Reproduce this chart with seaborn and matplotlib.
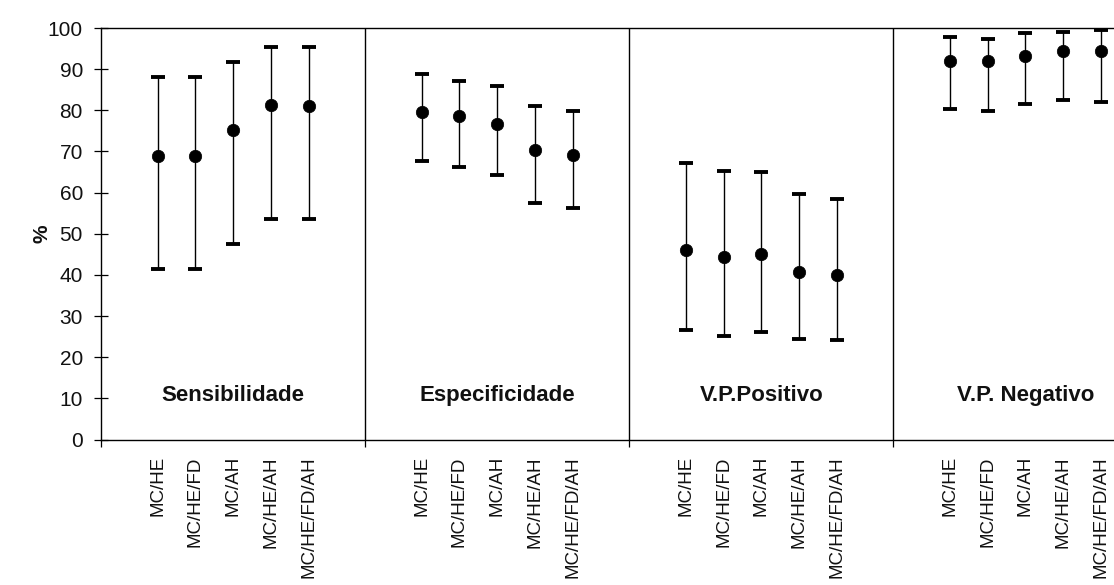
import matplotlib
matplotlib.use("Agg")
import matplotlib.pyplot as plt
import numpy as np
import pandas as pd
import seaborn as sns

# Diagnostic performance of the test combinations (%, with 95% CI)
metrics = ["Sensibilidade", "Especificidade", "V.P.Positivo", "V.P. Negativo"]
combos = ["MC/HE", "MC/HE/FD", "MC/AH", "MC/HE/AH", "MC/HE/FD/AH"]

sens_est = [68.9, 68.9, 75.2, 81.2, 81.1]
sens_low = [41.5, 41.5, 47.6, 53.7, 53.7]
sens_high = [88.0, 88.0, 91.7, 95.3, 95.3]

espec_est = [79.7, 78.5, 76.6, 70.4, 69.1]
espec_low = [67.8, 66.1, 64.2, 57.4, 56.3]
espec_high = [88.7, 87.1, 86.0, 81.1, 79.8]

vpp_est = [46.1, 44.4, 45.0, 40.8, 40.0]
vpp_low = [26.5, 25.2, 26.2, 24.4, 24.2]
vpp_high = [67.1, 65.3, 64.9, 59.7, 58.4]

vpn_est = [92.0, 92.1, 93.2, 94.5, 94.5]
vpn_low = [80.3, 79.9, 81.6, 82.6, 82.1]
vpn_high = [97.9, 97.3, 98.7, 99.1, 99.5]

y_ticks = [0, 10, 20, 30, 40, 50, 60, 70, 80, 90, 100]

estimates = [sens_est, espec_est, vpp_est, vpn_est]
lows = [sens_low, espec_low, vpp_low, vpn_low]
highs = [sens_high, espec_high, vpp_high, vpn_high]

# Each metric occupies a block of 7 slots: 5 combinations with 1.5 slots margin
block = 7
margin = 1.5

rows = []
for p, metric in enumerate(metrics):
    for i, combo in enumerate(combos):
        rows.append({
            "metric": metric,
            "combo": combo,
            "pos": p * block + margin + i,
            "est": estimates[p][i],
            "low": lows[p][i],
            "high": highs[p][i],
        })
df = pd.DataFrame(rows)

sns.set_theme(style="white")
plt.rcParams["font.family"] = ["Liberation Sans", "DejaVu Sans"]

fig = plt.figure(figsize=(11.14, 5.85), dpi=100)
ax = fig.add_axes([101 / 1114, 1 - 439.5 / 585, 1 - 101 / 1114, 411.5 / 585])

# confidence intervals with thick caps
ax.errorbar(df["pos"], df["est"],
            yerr=[df["est"] - df["low"], df["high"] - df["est"]],
            fmt="none", ecolor="black", elinewidth=1.0,
            capsize=5, capthick=2.8, zorder=2)

# point estimates
sns.scatterplot(data=df, x="pos", y="est", color="black", s=80,
                edgecolor="black", linewidth=0.5, ax=ax, zorder=3, legend=False)

ax.set_xlim(0, 26.85)
ax.set_ylim(0, 100)

# block separators
for p in range(1, len(metrics)):
    ax.axvline(p * block, color="black", linewidth=1.0, zorder=1)

# metric titles inside each block
for p, metric in enumerate(metrics):
    ax.text(p * block + margin + 2, 10.8, metric, ha="center", va="center",
            fontsize=16, fontweight="bold", color="#111111")

# spines
for side in ["top", "left", "bottom"]:
    ax.spines[side].set_visible(True)
    ax.spines[side].set_color("black")
    ax.spines[side].set_linewidth(1.0)
ax.spines["right"].set_visible(False)

# y axis
ax.set_yticks(y_ticks)
ax.set_yticklabels([str(v) for v in y_ticks], fontsize=15, color="#111111")
ax.tick_params(axis="y", direction="inout", length=10, width=0.9,
               color="black", pad=8, left=True)
ax.set_ylabel("%", fontsize=15, fontweight="bold", labelpad=-3, color="#111111")

# x axis: category labels at the points, small ticks at the separators
ax.set_xticks(df["pos"])
ax.set_xticklabels(df["combo"], rotation=90, fontsize=13.5, color="#111111",
                   va="top", ha="center")
ax.tick_params(axis="x", which="major", length=0, pad=12)
ax.set_xticks([0, 7, 14, 21], minor=True)
ax.tick_params(axis="x", which="minor", direction="out", length=5,
               width=0.9, color="black", bottom=True)
ax.set_xlabel("")
ax.grid(False)

fig.savefig("out.png", dpi=100)
